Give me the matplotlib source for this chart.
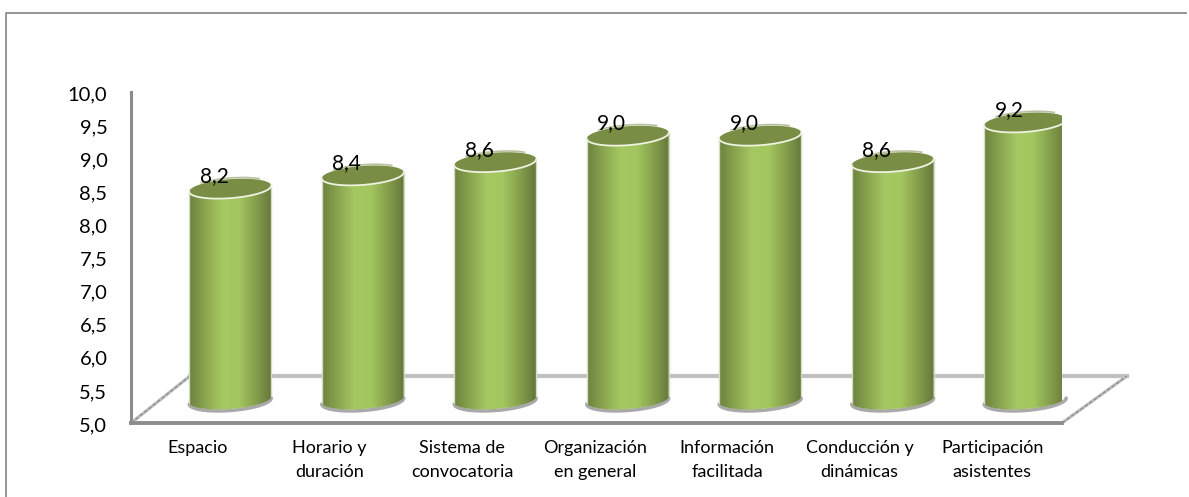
import matplotlib
matplotlib.use('Agg')
import matplotlib.pyplot as plt
import numpy as np
from matplotlib.colors import LinearSegmentedColormap
from matplotlib.lines import Line2D
from matplotlib.patches import PathPatch, Polygon
from matplotlib.path import Path
from matplotlib.transforms import ScaledTranslation

categorias = ['Espacio', 'Horario y\nduración', 'Sistema de\nconvocatoria', 'Organización\nen general',
              'Información\nfacilitada', 'Conducción y\ndinámicas', 'Participación\nasistentes']
valores = [8.2, 8.4, 8.6, 9.0, 9.0, 8.6, 9.2]
etiquetas_y = ['5,0', '5,5', '6,0', '6,5', '7,0', '7,5', '8,0', '8,5', '9,0', '9,5', '10,0']

W, H = 1189, 497
plt.rcParams['font.family'] = ['Lato', 'DejaVu Sans']

fig = plt.figure(figsize=(W / 100, H / 100), dpi=100)
# marco exterior: izquierda y arriba
fig.add_artist(Line2D([6 / W, 6 / W, 1186 / W], [0, 1 - 13 / H, 1 - 13 / H], transform=fig.transFigure,
                      color='#8c8c8c', lw=1.3))

ax = fig.add_axes([131 / W, 1 - 423 / H, 931 / W, 331 / H])
ax.set_xlim(-0.5, 6.527)
ax.set_ylim(5, 10)
px_x = 7.027 / 931  # unidades de datos por pixel
px_y = 5 / 331

ax.spines[['top', 'right']].set_visible(False)
ax.spines['left'].set_color('#8c8c8c')
ax.spines['bottom'].set_color('#8c8c8c')
ax.spines['left'].set_linewidth(2.2)
ax.spines['bottom'].set_linewidth(2.8)
ax.set_yticks(np.arange(5, 10.5, 0.5), etiquetas_y, fontsize=14.5)
ax.set_xticks(range(7), categorias, fontsize=13, linespacing=1.65)
ax.tick_params(axis='y', length=0, pad=17)
ax.tick_params(axis='x', length=0, pad=12)
for lab in ax.get_yticklabels():
    lab.set_transform(lab.get_transform() + ScaledTranslation(0, -1 / 100, fig.dpi_scale_trans))

# suelo en perspectiva
fondo = 5 + 47 * px_y
xi, xf = ax.get_xlim()
ax.plot([xi + 59 * px_x, xf + 65 * px_x], [fondo, fondo], color='#c0c0c0', lw=3, clip_on=False, zorder=1)
for x0, x1 in [(xi, xi + 59 * px_x), (xf, xf + 65 * px_x)]:
    ax.plot([x0, x1], [5, fondo], color='#c6c6c6', lw=2.4, clip_on=False, zorder=1)
    ax.plot([x0, x1], [5, fondo], color='#8e8e8e', lw=1, ls=(0, (3, 1)), clip_on=False, zorder=1)

cmap = LinearSegmentedColormap.from_list('cil', ['#6c8240', '#8aa64f', '#a5c862', '#a3c65f', '#86a04c', '#65783d'])
grad = np.linspace(0, 1, 256).reshape(1, -1)

desp_x = 33 * px_x
desp_y = 22.5 * px_y
ancho = 41 * px_x
alto_el = 9.5 * px_y
incl = 3 * px_y  # inclinación de las elipses
base = 5 + 23.5 * px_y


def elipse(cx, cy, t):
    return cx + ancho * np.cos(t), cy + alto_el * np.sin(t) + incl * np.cos(t)


for i, v in enumerate(valores):
    cx = i + desp_x
    top = v + desp_y
    t_frente = np.linspace(np.pi, 2 * np.pi, 60)
    t_tapa = np.linspace(0, 2 * np.pi, 120)
    xb, yb = elipse(cx, base, t_frente)
    xt, yt = elipse(cx, top, t_frente)
    verts = list(zip(xb, yb)) + [(xt[-1], yt[-1]), (xt[0], yt[0]), (xb[0], yb[0])]
    clip = PathPatch(Path(verts), transform=ax.transData, fc='none', ec='none')
    ax.add_patch(clip)

    # sombra de la base
    ax.plot(xb, yb - 1.5 * px_y, color='#a9a9a9', lw=2.5, zorder=2, clip_on=False, solid_capstyle='round')
    # cuerpo con degradado
    im = ax.imshow(grad, cmap=cmap, extent=[cx - ancho, cx + ancho, base - 2 * alto_el, top + incl],
                   aspect='auto', zorder=3)
    im.set_clip_path(clip)
    # borde claro del cuerpo
    ax.plot([xb[0], xt[0]], [yb[0], yt[0]], color='#d4dcc0', lw=1, zorder=4)
    ax.plot([xb[-1], xt[-1]], [yb[-1], yt[-1]], color='#d4dcc0', lw=1, zorder=4)
    # tapa superior
    xe, ye = elipse(cx, top, t_tapa)
    ax.add_patch(Polygon(np.column_stack([xe, ye]), fc='#7a8d45', ec='none', zorder=5))
    ax.plot(xt, yt, color='#eef2e0', lw=1.3, zorder=6)
    xa, ya = elipse(cx, top + 1.2 * px_y, np.linspace(0.25 * np.pi, 0.75 * np.pi, 30))
    ax.plot(xa, ya, color='#b9c2a0', lw=1.2, zorder=4)
    ax.text(i + 17 * px_x, v + 35 * px_y, f'{v:.1f}'.replace('.', ','), ha='center', va='center',
            fontsize=15, color='black', zorder=7)

ax.set_xlim(xi, xf)
ax.set_ylim(5, 10)

fig.savefig('out.png', dpi=100)
